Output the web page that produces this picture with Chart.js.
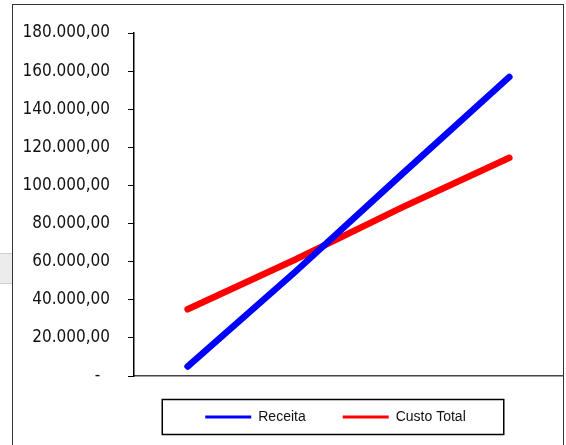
<!DOCTYPE html>
<html>
<head>
<meta charset="utf-8">
<script src="https://cdn.jsdelivr.net/npm/chart.js@4"></script>
<style>
  body { margin: 0; background: #fff; width: 566px; height: 445px; overflow: hidden; position: relative; }
  #frame { position: absolute; left: 12px; top: 4px; width: 550px; height: 470px; border: 1.5px solid #333; }
  #cell { position: absolute; left: -1px; top: 253px; width: 12px; height: 29px; background: #ececec; border: 1px solid #cfcfcf; }
  #myChart { position: absolute; left: 0; top: 0; }
</style>
</head>
<body>
<div id="cell"></div>
<div id="frame"></div>
<canvas id="myChart" width="566" height="445"></canvas>
<script>
var categories = ['1', '2', '3', '4'];
var receita = [5000, 54500, 106000, 157000];
var custoTotal = [35000, 61000, 88500, 114500];
var yTickLabels = ['-\u2007', '20.000,00', '40.000,00', '60.000,00', '80.000,00', '100.000,00',
                   '120.000,00', '140.000,00', '160.000,00', '180.000,00'];

// desloca a legenda para onde o Excel a coloca
var legendShift = { dx: 44, dy: -11 };

var legendMove = {
    id: 'legendMove',
    afterLayout: function(chart) {
        var lg = chart.legend;
        lg.left += legendShift.dx; lg.right += legendShift.dx;
        lg.top += legendShift.dy; lg.bottom += legendShift.dy;
    }
};

// moldura da legenda (estilo Excel)
var legendFrame = {
    id: 'legendFrame',
    afterDraw: function(chart) {
        var boxes = chart.legend.legendHitBoxes;
        if (!boxes || !boxes.length) return;
        var first = boxes[0], last = boxes[boxes.length - 1];
        var cy = first.top + first.height / 2;
        var ctx = chart.ctx;
        ctx.save();
        ctx.strokeStyle = '#000';
        ctx.lineWidth = 1.5;
        ctx.strokeRect(first.left - 43, cy - 17.5, (last.left + last.width + 38) - (first.left - 43), 35);
        ctx.restore();
    }
};

function createChart() {
var ctx = document.getElementById('myChart');
var myChart = new Chart(ctx, {
    type: 'line',
    data: {
        labels: categories,
        datasets: [{
            label: 'Receita',
            data: receita,
            borderColor: '#0000ff',
            backgroundColor: '#0000ff',
            borderWidth: 6.5,
            borderCapStyle: 'round',
            pointRadius: 0,
            tension: 0,
            fill: false
        }, {
            label: 'Custo Total',
            data: custoTotal,
            borderColor: '#ff0000',
            backgroundColor: '#ff0000',
            borderWidth: 6.5,
            borderCapStyle: 'round',
            pointRadius: 0,
            tension: 0,
            fill: false
        }]
    },
    options: {
        responsive: false,
        animation: false,
        layout: {
            padding: { left: 20, right: 3, top: 33, bottom: 0 }
        },
        scales: {
            x: {
                offset: true,
                grid: { display: false },
                border: { display: true, color: '#444', width: 1.5 },
                ticks: { display: false }
            },
            y: {
                min: 0,
                max: 180000,
                afterFit: function(scale) { scale.width = 114; },
                ticks: {
                    stepSize: 20000,
                    padding: 18,
                    color: '#111',
                    font: { family: "'DejaVu Sans Condensed', 'DejaVu Sans'", size: 17 },
                    callback: function(value, index) { return yTickLabels[index]; }
                },
                grid: { drawOnChartArea: false, drawTicks: true, tickLength: 6, color: '#000' },
                border: { display: true, color: '#000', width: 1.5 }
            }
        },
        plugins: {
            title: { display: false },
            tooltip: { enabled: false },
            legend: {
                display: true,
                position: 'bottom',
                labels: {
                    boxWidth: 46,
                    boxHeight: 3,
                    padding: 37,
                    color: '#111',
                    font: { family: "'Liberation Sans', Arial", size: 14 },
                    generateLabels: function(chart) {
                        var items = Chart.defaults.plugins.legend.labels.generateLabels(chart);
                        items.forEach(function(it) { it.lineWidth = 0; it.fillStyle = it.strokeStyle; });
                        return items;
                    }
                }
            }
        }
    },
    plugins: [legendMove, legendFrame]
});
}

createChart();
</script>
</body>
</html>
